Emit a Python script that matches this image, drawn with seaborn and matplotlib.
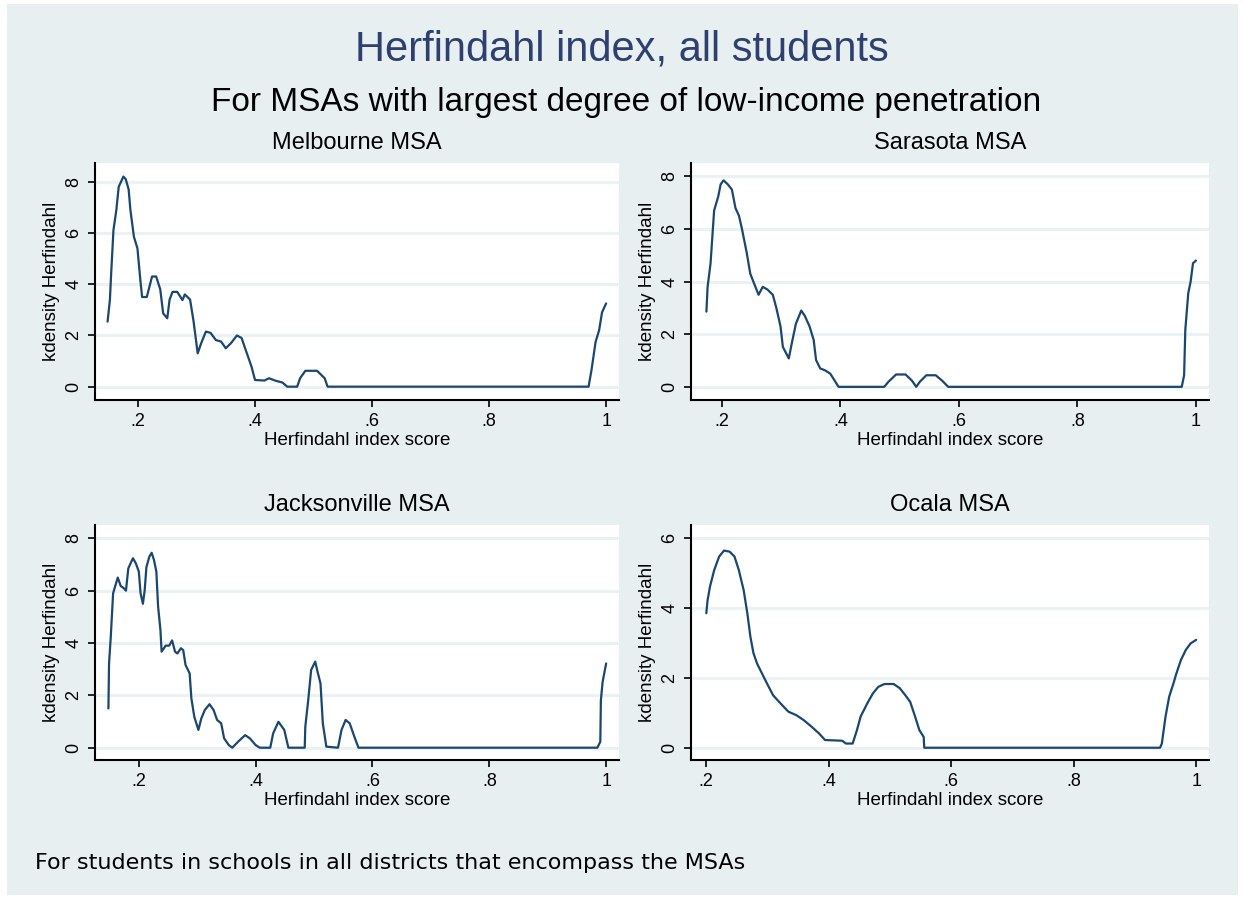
import matplotlib
import numpy as np
import pandas as pd

matplotlib.use("Agg")
import matplotlib.pyplot as plt
from matplotlib.patches import Rectangle
from matplotlib.ticker import FuncFormatter
import seaborn as sns

# kernel density curves, one (x, y) pair per MSA
melbourne_x = [0.148, 0.152, 0.154, 0.158, 0.163, 0.167, 0.175, 0.179, 0.184, 0.187, 0.193, 0.199,
               0.204, 0.207, 0.215, 0.224, 0.231, 0.238, 0.243, 0.250, 0.254, 0.259, 0.267, 0.276,
               0.280, 0.289, 0.295, 0.302, 0.308, 0.316, 0.324, 0.333, 0.342, 0.350, 0.359, 0.369,
               0.377, 0.385, 0.394, 0.400, 0.416, 0.424, 0.434, 0.447, 0.455, 0.472, 0.477, 0.486,
               0.506, 0.519, 0.524, 0.970, 0.975, 0.982, 0.988, 0.993, 1.000]
melbourne_y = [2.54, 3.40, 4.36, 6.10, 6.90, 7.80, 8.20, 8.10, 7.70, 6.90, 5.85, 5.40,
               4.16, 3.50, 3.50, 4.30, 4.30, 3.80, 2.86, 2.67, 3.40, 3.70, 3.70, 3.38,
               3.60, 3.40, 2.54, 1.30, 1.70, 2.15, 2.10, 1.82, 1.76, 1.50, 1.70, 2.00,
               1.90, 1.37, 0.78, 0.26, 0.24, 0.33, 0.24, 0.16, 0.00, 0.00, 0.33, 0.62,
               0.62, 0.33, 0.00, 0.00, 0.65, 1.75, 2.20, 2.90, 3.25]

sarasota_x = [0.174, 0.176, 0.181, 0.184, 0.187, 0.194, 0.198, 0.203, 0.210, 0.217, 0.223, 0.229,
              0.234, 0.242, 0.248, 0.255, 0.262, 0.269, 0.277, 0.286, 0.292, 0.299, 0.303, 0.313,
              0.318, 0.325, 0.334, 0.340, 0.348, 0.355, 0.359, 0.366, 0.374, 0.383, 0.390, 0.397,
              0.474, 0.481, 0.494, 0.510, 0.521, 0.528, 0.534, 0.545, 0.561, 0.572, 0.582, 0.976,
              0.980, 0.982, 0.987, 0.991, 0.995, 1.000]
sarasota_y = [2.86, 3.80, 4.70, 5.70, 6.70, 7.24, 7.70, 7.85, 7.70, 7.50, 6.80, 6.50,
              6.00, 5.10, 4.30, 3.90, 3.50, 3.80, 3.70, 3.50, 3.00, 2.30, 1.52, 1.08,
              1.65, 2.40, 2.90, 2.70, 2.30, 1.78, 1.02, 0.70, 0.63, 0.50, 0.25, 0.00,
              0.00, 0.19, 0.47, 0.47, 0.23, 0.00, 0.19, 0.44, 0.44, 0.23, 0.00, 0.00,
              0.44, 2.16, 3.56, 4.00, 4.70, 4.80]

jacksonville_x = [0.148, 0.149, 0.152, 0.156, 0.161, 0.164, 0.169, 0.174, 0.178, 0.182, 0.187, 0.190,
                  0.195, 0.200, 0.203, 0.207, 0.210, 0.213, 0.218, 0.222, 0.226, 0.230, 0.233, 0.237,
                  0.239, 0.246, 0.252, 0.257, 0.262, 0.266, 0.272, 0.276, 0.280, 0.287, 0.290, 0.295,
                  0.302, 0.307, 0.313, 0.321, 0.328, 0.334, 0.341, 0.346, 0.354, 0.360, 0.370, 0.382,
                  0.390, 0.400, 0.407, 0.425, 0.430, 0.439, 0.449, 0.456, 0.484, 0.485, 0.490, 0.495,
                  0.502, 0.506, 0.511, 0.515, 0.521, 0.541, 0.547, 0.554, 0.561, 0.569, 0.576, 0.985,
                  0.990, 0.991, 0.994, 1.000]
jacksonville_y = [1.50, 3.20, 4.24, 5.90, 6.28, 6.50, 6.18, 6.10, 6.00, 6.85, 7.10, 7.24,
                  7.04, 6.73, 5.90, 5.50, 6.00, 6.90, 7.30, 7.45, 7.17, 6.73, 5.40, 4.50,
                  3.67, 3.90, 3.90, 4.10, 3.67, 3.60, 3.80, 3.73, 3.16, 2.84, 1.88, 1.18,
                  0.68, 1.12, 1.44, 1.66, 1.44, 1.06, 0.93, 0.36, 0.10, 0.00, 0.23, 0.48,
                  0.36, 0.10, 0.00, 0.00, 0.55, 0.99, 0.68, 0.00, 0.00, 0.80, 1.82, 2.97,
                  3.29, 2.90, 2.46, 0.93, 0.04, 0.00, 0.68, 1.06, 0.93, 0.42, 0.00, 0.00,
                  0.23, 1.82, 2.52, 3.22]

ocala_x = [0.200, 0.202, 0.206, 0.213, 0.221, 0.229, 0.238, 0.246, 0.253, 0.261, 0.267, 0.272,
           0.277, 0.283, 0.291, 0.299, 0.309, 0.321, 0.334, 0.347, 0.359, 0.372, 0.384, 0.394,
           0.422, 0.428, 0.439, 0.446, 0.452, 0.463, 0.472, 0.481, 0.491, 0.506, 0.516, 0.525,
           0.533, 0.541, 0.548, 0.555, 0.556, 0.941, 0.944, 0.950, 0.956, 0.963, 0.967, 0.975,
           0.983, 0.991, 1.000]
ocala_y = [3.84, 4.20, 4.60, 5.08, 5.46, 5.63, 5.60, 5.46, 5.08, 4.50, 3.84, 3.17,
           2.70, 2.40, 2.12, 1.84, 1.50, 1.27, 1.03, 0.93, 0.79, 0.60, 0.41, 0.22,
           0.20, 0.12, 0.12, 0.50, 0.89, 1.27, 1.55, 1.74, 1.82, 1.82, 1.70, 1.50,
           1.31, 0.89, 0.50, 0.31, 0.00, 0.00, 0.12, 0.89, 1.46, 1.84, 2.08, 2.50,
           2.79, 2.98, 3.08]

panel_titles = ["Melbourne MSA", "Sarasota MSA", "Jacksonville MSA", "Ocala MSA"]
x_ticks = [0.2, 0.4, 0.6, 0.8, 1.0]
y_ticks = [[0, 2, 4, 6, 8], [0, 2, 4, 6, 8], [0, 2, 4, 6, 8], [0, 2, 4, 6]]

W, H = 1244, 902
BG = "#e8eff1"
NAVY = "#1a476f"

sns.set_theme(style="white")
plt.rcParams["font.family"] = ["Liberation Sans", "DejaVu Sans"]

fig = plt.figure(figsize=(W / 100, H / 100), dpi=100, facecolor="white")
fig.patches.append(Rectangle((7 / W, 1 - 895 / H), (1238 - 7) / W, (895 - 4) / H,
                             transform=fig.transFigure, facecolor=BG, edgecolor="none", zorder=-10))


def px_axes(left, top, right, bottom):
    return fig.add_axes([left / W, 1 - bottom / H, (right - left) / W, (bottom - top) / H])


def stata_fmt(v, _pos):
    s = f"{v:g}"
    return s[1:] if s.startswith("0.") else s


frames = [
    pd.DataFrame({"herf": melbourne_x, "dens": melbourne_y}),
    pd.DataFrame({"herf": sarasota_x, "dens": sarasota_y}),
    pd.DataFrame({"herf": jacksonville_x, "dens": jacksonville_y}),
    pd.DataFrame({"herf": ocala_x, "dens": ocala_y}),
]
boxes = [(95, 163, 619, 400), (691, 163, 1209, 400), (95, 525, 619, 760), (691, 525, 1209, 760)]
xlims = [(0.1265, 1.022), (0.148, 1.022), (0.125, 1.022), (0.175, 1.021)]
ylims = [(-0.52, 8.73), (-0.5, 8.51), (-0.47, 8.51), (-0.35, 6.36)]

for df, box, title, yt, xl, yl in zip(frames, boxes, panel_titles, y_ticks, xlims, ylims):
    ax = px_axes(*box)
    ax.set_facecolor("white")
    for v in yt:
        ax.axhline(v, color="#eaf2f3", lw=2.2, zorder=0)
    sns.lineplot(data=df, x="herf", y="dens", ax=ax, color=NAVY, lw=1.6, sort=False)
    ax.set_xlim(*xl)
    ax.set_ylim(*yl)
    ax.set_xticks(x_ticks)
    ax.set_yticks(yt)
    ax.xaxis.set_major_formatter(FuncFormatter(stata_fmt))
    ax.yaxis.set_major_formatter(FuncFormatter(stata_fmt))
    for side in ["top", "right"]:
        ax.spines[side].set_visible(False)
    for side in ["left", "bottom"]:
        ax.spines[side].set_color("black")
        ax.spines[side].set_linewidth(1.5)
    ax.tick_params(axis="both", direction="out", length=5, width=1.2, color="black",
                   labelsize=13, labelcolor="black", bottom=True, left=True, pad=4)
    for lab in ax.get_yticklabels():
        lab.set_rotation(90)
        lab.set_va("center")
    ax.set_xlabel("Herfindahl index score", fontsize=13.5, color="black", labelpad=2)
    ax.set_ylabel("kdensity Herfindahl", fontsize=13.5, color="black", labelpad=4)
    ax.set_title(title, fontsize=17, color="black", pad=10)

fig.text(622 / W, 1 - 50 / H, "Herfindahl index, all students", ha="center", va="center",
         fontsize=30, color="#2f3f6f")
fig.text(626 / W, 1 - 103 / H, "For MSAs with largest degree of low-income penetration",
         ha="center", va="center", fontsize=24, color="black")
fig.text(35 / W, 1 - 863 / H, "For students in schools in all districts that encompass the MSAs",
         ha="left", va="center", fontsize=16, color="black", family="DejaVu Sans")

fig.savefig("out.png", dpi=100, facecolor=fig.get_facecolor())
